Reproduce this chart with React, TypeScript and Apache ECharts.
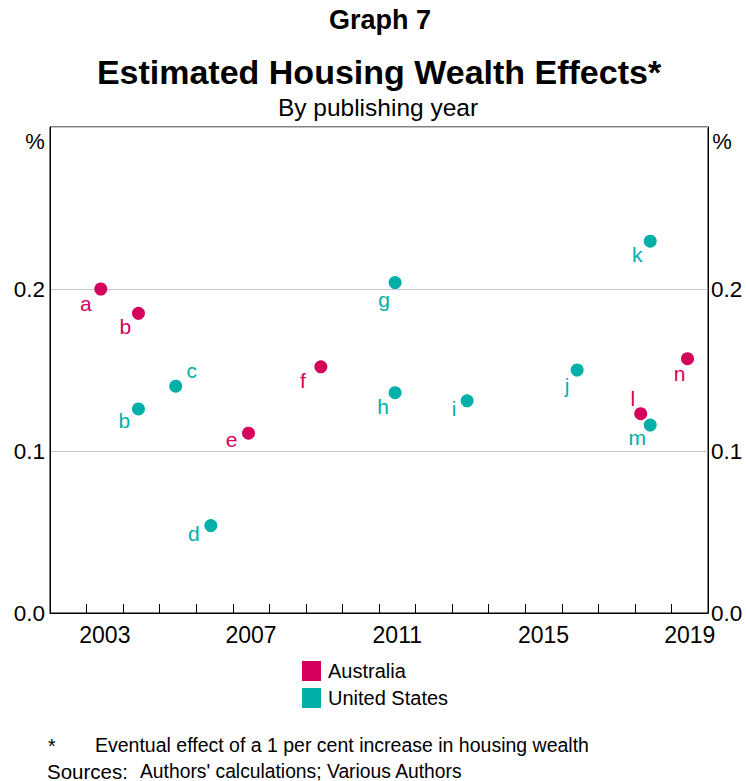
import React, { useEffect, useRef } from "react";
import * as echarts from "echarts";

// ---- Data ----
const yearCategories = ["2002","2003","2004","2005","2006","2007","2008","2009","2010","2011","2012","2013","2014","2015","2016","2017","2018","2019"];
const shownYearLabels = ["2003", "2007", "2011", "2015", "2019"];
const yTickLabels = ["0.0", "0.1", "0.2"];

const auLabels = ["a", "b", "e", "f", "l", "n"];
const auYears = [2003.39, 2004.42, 2007.43, 2009.41, 2018.16, 2019.44];
const auValues = [0.2, 0.185, 0.111, 0.152, 0.123, 0.157];

const usLabels = ["b", "c", "d", "g", "h", "i", "j", "k", "m"];
const usYears = [2004.42, 2005.44, 2006.4, 2011.44, 2011.44, 2013.41, 2016.42, 2018.42, 2018.42];
const usValues = [0.126, 0.14, 0.054, 0.204, 0.136, 0.131, 0.15, 0.2295, 0.116];

// label offsets (style only)
const auOffsets: Record<string, [number, number]> = {
  a: [-15, 14], b: [-13, 13], e: [-17, 6], f: [-18, 14], l: [-8, -15], n: [-8, 15],
};
const usOffsets: Record<string, [number, number]> = {
  b: [-14, 12], c: [16, -16], d: [-17, 8], g: [-11, 17], h: [-12, 14], i: [-13, 8], j: [-10, 15], k: [-13, 13], m: [-13, 12],
};

const AU = "#D5005B";
const US = "#00B0A8";
const FONT = "'Liberation Sans', Arial, sans-serif";

function buildSeriesData(labels: string[], years: number[], values: number[], offsets: Record<string, [number, number]>, color: string) {
  return labels.map((l, i) => ({
    value: [years[i], values[i]],
    name: l,
    label: {
      show: true,
      position: "inside",
      offset: offsets[l],
      formatter: l,
      color,
      fontSize: 21,
      fontFamily: FONT,
    },
  }));
}

export default function App() {
  const ref = useRef<HTMLDivElement>(null);
  useEffect(() => {
    if (!ref.current) return;
    const chart = echarts.init(ref.current, null, { renderer: "svg" });
    const yLabelFmt = (v: number) => {
      const idx = Math.round(v * 10);
      return idx < yTickLabels.length ? yTickLabels[idx] : "";
    };
    const option: any = {
      animation: false,
      backgroundColor: "#fff",
      textStyle: { fontFamily: FONT },
      grid: {
        left: 50,
        right: 38,
        top: 127,
        bottom: 168,
        show: true,
        borderColor: "#000",
        borderWidth: 1,
        backgroundColor: "transparent",
      },
      xAxis: [
        {
          type: "value",
          min: 2002,
          max: 2020,
          interval: 1,
          axisLine: { show: true, lineStyle: { color: "#000", width: 1 } },
          axisTick: { show: true, inside: true, length: 9, lineStyle: { color: "#000" } },
          axisLabel: { show: false },
          splitLine: { show: false },
        },
        {
          type: "category",
          position: "bottom",
          data: yearCategories,
          boundaryGap: true,
          axisLine: { show: false },
          axisTick: { show: false },
          splitLine: { show: false },
          axisLabel: {
            interval: 0,
            margin: 10,
            fontSize: 23,
            color: "#000",
            fontFamily: FONT,
            formatter: (v: string) => (shownYearLabels.includes(v) ? v : ""),
          },
        },
      ],
      yAxis: [
        {
          type: "value",
          position: "left",
          min: 0,
          max: 0.3,
          interval: 0.1,
          axisLine: { show: true, lineStyle: { color: "#000" } },
          axisTick: { show: false },
          axisLabel: { margin: 5, fontSize: 22.5, color: "#000", fontFamily: FONT, formatter: yLabelFmt },
          splitLine: { show: true, lineStyle: { color: "#c4c4c4", width: 1 } },
        },
        {
          type: "value",
          position: "right",
          min: 0,
          max: 0.3,
          interval: 0.1,
          axisLine: { show: true, lineStyle: { color: "#000" } },
          axisTick: { show: false },
          axisLabel: { margin: 3, fontSize: 22.5, color: "#000", fontFamily: FONT, formatter: yLabelFmt },
          splitLine: { show: false },
        },
      ],
      legend: {
        orient: "vertical",
        left: 302,
        top: 661,
        itemWidth: 19,
        itemHeight: 20,
        itemGap: 7,
        padding: 0,
        icon: "rect",
        itemStyle: { opacity: 1 },
        textStyle: { fontSize: 20, color: "#000", fontFamily: FONT, padding: [0, 0, 0, 2] },
        data: [
          { name: "Australia", icon: "rect" },
          { name: "United States", icon: "rect" },
        ],
      },
      series: [
        {
          name: "Australia",
          type: "scatter",
          xAxisIndex: 0,
          yAxisIndex: 0,
          symbolSize: 13,
          itemStyle: { color: AU, opacity: 1 },
          data: buildSeriesData(auLabels, auYears, auValues, auOffsets, AU),
        },
        {
          name: "United States",
          type: "scatter",
          xAxisIndex: 0,
          yAxisIndex: 0,
          symbolSize: 13,
          itemStyle: { color: US, opacity: 1 },
          data: buildSeriesData(usLabels, usYears, usValues, usOffsets, US),
        },
      ],
      graphic: [
        {
          type: "text",
          x: 380,
          y: 20,
          style: { text: "Graph 7", font: `bold 27px ${FONT}`, fill: "#000", textAlign: "center", textVerticalAlign: "middle" },
        },
        {
          type: "text",
          x: 379,
          y: 72,
          style: { text: "Estimated Housing Wealth Effects*", font: `bold 34px ${FONT}`, fill: "#000", textAlign: "center", textVerticalAlign: "middle" },
        },
        {
          type: "text",
          x: 378,
          y: 107,
          style: { text: "By publishing year", font: `24.5px ${FONT}`, fill: "#000", textAlign: "center", textVerticalAlign: "middle" },
        },
        {
          type: "text",
          x: 35,
          y: 141,
          style: { text: "%", font: `22px ${FONT}`, fill: "#000", textAlign: "center", textVerticalAlign: "middle" },
        },
        {
          type: "text",
          x: 722,
          y: 141,
          style: { text: "%", font: `22px ${FONT}`, fill: "#000", textAlign: "center", textVerticalAlign: "middle" },
        },
        {
          type: "text",
          x: 48,
          y: 746,
          style: { text: "*", font: `19.5px ${FONT}`, fill: "#000", textAlign: "left", textVerticalAlign: "middle" },
        },
        {
          type: "text",
          x: 95,
          y: 745,
          style: { text: "Eventual effect of a 1 per cent increase in housing wealth", font: `19.5px ${FONT}`, fill: "#000", textAlign: "left", textVerticalAlign: "middle" },
        },
        {
          type: "text",
          x: 47,
          y: 771,
          style: { text: "Sources:", font: `20.5px ${FONT}`, fill: "#000", textAlign: "left", textVerticalAlign: "middle" },
        },
        {
          type: "text",
          x: 140,
          y: 771,
          style: { text: "Authors' calculations; Various Authors", font: `19.3px ${FONT}`, fill: "#000", textAlign: "left", textVerticalAlign: "middle" },
        },
      ],
    };
    chart.setOption(option);
    return () => chart.dispose();
  }, []);
  return (
    <div
      ref={ref}
      style={{ position: "fixed", left: 0, top: 0, width: 746, height: 781, background: "#fff" }}
    />
  );
}
